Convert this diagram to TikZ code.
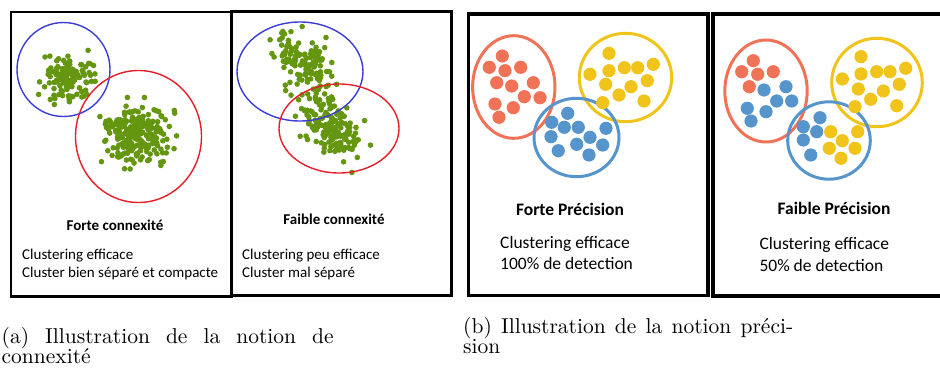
\documentclass[tikz,border=0pt]{standalone}
\usepackage{fontspec}
\newfontfamily\calibrifont{Carlito}
\newfontfamily\capfont{lmroman10-regular.otf}
\definecolor{salmon}{RGB}{240,115,88}
\definecolor{yel}{RGB}{240,196,26}
\definecolor{blu}{RGB}{86,148,204}
\definecolor{grn}{RGB}{100,150,16}
\definecolor{cblue}{RGB}{60,60,215}
\definecolor{cred}{RGB}{230,30,40}
\tikzset{
  panelA/.style={draw=black, line width=2.5pt},
  panelB/.style={draw=black, line width=3.5pt},
  gdot/.style={fill=grn},
  ring/.style={line width=1.4pt},
  bigring/.style={line width=3pt},
  ltext/.style={inner sep=0pt, font=\calibrifont\fontsize{15}{18}\selectfont},
  lbold/.style={inner sep=0pt, font=\calibrifont\bfseries\fontsize{15}{18}\selectfont},
  rtext/.style={inner sep=0pt, font=\calibrifont\fontsize{17.5}{21}\selectfont},
  rbold/.style={inner sep=0pt, font=\calibrifont\bfseries\fontsize{17.5}{21}\selectfont},
  captext/.style={inner sep=0pt, anchor=base west, font=\capfont\fontsize{21.5}{20}\selectfont},
}
\begin{document}
\begin{tikzpicture}[x=1pt,y=-1pt]
\useasboundingbox (0,0) rectangle (940,372);
\fill[white] (0,0) rectangle (940,372);

% ---------- panel frames
\draw[panelA] (11,12) rectangle (232.2,296.3);
\draw[panelA] (231.3,11.3) rectangle (451.3,295.3);
\draw[panelB] (468.7,13.8) rectangle (708,295.5);
\draw[panelB] (713,13.8) rectangle (960,296);

% ---------- panel 1 : forte connexite
\pgfmathsetseed{4242}
\foreach \i in {1,...,120}{
  \pgfmathsetmacro\ga{rand+rand+rand}
  \pgfmathsetmacro\gb{rand+rand+rand}
  \fill[gdot] ({68+12*(\ga)},{78+11*(\gb)}) circle[radius=2.8pt];
}
\foreach \i in {1,...,230}{
  \pgfmathsetmacro\ga{rand+rand+rand}
  \pgfmathsetmacro\gb{rand+rand+rand}
  \fill[gdot] ({136+16.5*(\ga)},{133+15*(\gb)}) circle[radius=2.8pt];
}
\draw[ring, cblue] (63.5,69.5) ellipse[x radius=46.5pt, y radius=47pt];
\draw[ring, cred] (138.5,136.5) ellipse[x radius=63pt, y radius=66pt];

% ---------- panel 2 : faible connexite
\foreach \i in {1,...,135}{
  \pgfmathsetmacro\ga{rand+rand+rand}
  \pgfmathsetmacro\gb{rand+rand+rand}
  \fill[gdot] ({303+7.5*(\ga)+11*(\gb)},{66+17*(\ga)-4.8*(\gb)}) circle[radius=2.8pt];
}
\foreach \i in {1,...,150}{
  \pgfmathsetmacro\ga{rand+rand+rand}
  \pgfmathsetmacro\gb{rand+rand+rand}
  \fill[gdot] ({332+12*(\ga)+7.5*(\gb)},{128+12*(\ga)-7.5*(\gb)}) circle[radius=2.8pt];
}
\draw[ring, cblue] (300,71.5) ellipse[x radius=63pt, y radius=49.5pt];
\draw[ring, cred] (339,128.5) ellipse[x radius=60pt, y radius=44.5pt];

% ---------- panel 3 : forte precision
\draw[bigring, salmon] (513.8,87) ellipse[x radius=41.2pt, y radius=51.3pt];
\draw[bigring, yel] (625.5,77.5) ellipse[x radius=46.2pt, y radius=44.2pt];
\draw[bigring, blu] (576.5,137.5) ellipse[x radius=42.5pt, y radius=39.2pt];
\foreach \p in {(502.3,56),(489.3,67.3),(505,70.7),(520.7,67.3),(496.7,82.7),(511.7,86),
  (533.3,82.7),(524.3,96.7),(540,97.7),(495,104),(513.3,107.7),(499,117.3)}
  \fill[salmon] \p circle[radius=6.6pt];
\foreach \p in {(609,53.3),(590,74.3),(609,70.7),(624.3,67.7),(637.7,67.7),(653.3,64.3),
  (605.7,84.3),(631,86.7),(647.3,80.7),(619,95),(602.7,102.7),(644,101)}
  \fill[yel] \p circle[radius=6.6pt];
\foreach \p in {(567.7,113.3),(551.7,122.3),(564.3,127.3),(578.3,127.3),(606,128.3),
  (551,136.7),(590,137.3),(576.7,144.3),(602.7,145),(558.3,150.7),(589,155)}
  \fill[blu] \p circle[radius=6.6pt];

% ---------- panel 4 : faible precision
\draw[bigring, salmon] (766,91) ellipse[x radius=41.2pt, y radius=51pt];
\draw[bigring, yel] (877,82.5) ellipse[x radius=45.3pt, y radius=44.2pt];
\draw[bigring, blu] (829,140.5) ellipse[x radius=41.3pt, y radius=38.7pt];
\foreach \p in {(753.3,60.7),(741.7,71.7),(757.7,74.3),(773.3,71.7),(749.3,86.7)}
  \fill[salmon] \p circle[radius=6.6pt];
\foreach \p in {(764,90),(786,86.7),(776.7,101),(791.7,101),(747.3,108.3),(766,111.7),(751,121),
  (820,117.7),(803.3,126.7),(816.7,131.7),(803.3,140),(810.7,155)}
  \fill[blu] \p circle[radius=6.6pt];
\foreach \p in {(861,56.7),(842.3,79),(861,74),(876.7,71.7),(890,71.7),(905.7,68.3),
  (858.3,89),(883.3,91),(899.3,84.3),(870.7,99.3),(855,106.7),(896.7,105.7),
  (830.7,131.7),(857.7,131.7),(842.3,140.7),(829.3,148.3),(855,148.3),(841,158.3)}
  \fill[yel] \p circle[radius=6.6pt];

% ---------- texts
\node[lbold, anchor=base] (t1) at (115,230) {Forte connexité};
\node[ltext, anchor=base west] (t1a) at (22,259.3) {Clustering efficace};
\node[ltext, anchor=base west] (t1b) at (22,277.3) {Cluster bien séparé et compacte};
\node[lbold, anchor=base] (t2) at (334,224) {Faible connexité};
\node[ltext, anchor=base west] (t2a) at (242,259.3) {Clustering peu efficace};
\node[ltext, anchor=base west] (t2b) at (242,277.7) {Cluster mal séparé};
\node[rbold, anchor=base] (t3) at (570,215) {Forte Précision};
\node[rtext, anchor=base west] (t3a) at (500,248.3) {Clustering efficace};
\node[rtext, anchor=base west] (t3b) at (500,269.3) {100\% de detection};
\node[rbold, anchor=base] (t4) at (834,214.3) {Faible Précision};
\node[rtext, anchor=base west] (t4a) at (759.3,249.3) {Clustering efficace};
\node[rtext, anchor=base west] (t4b) at (759.3,271) {50\% de detection};

% ---------- captions
\node[captext] (ca1) at (1.5,343) {\makebox[332pt][s]{(a) Illustration de la notion de}};
\node[captext] (ca2) at (1.5,363) {connexité};
\node[captext] (cb1) at (463,333.5) {\makebox[330pt][s]{(b) Illustration de la notion préci-}};
\node[captext] (cb2) at (463,353.5) {sion};
\end{tikzpicture}
\end{document}
